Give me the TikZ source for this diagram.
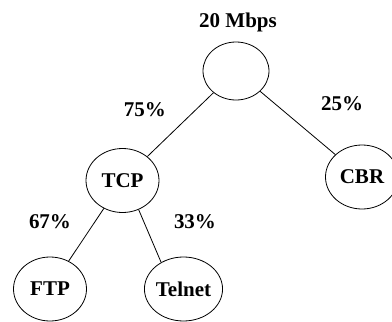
\documentclass[tikz,border=0pt]{standalone}
\usepackage{fontspec}
\setmainfont{Liberation Serif}
\usepackage{tikz}
\usetikzlibrary{shapes.geometric}

\begin{document}
\begin{tikzpicture}[x=1pt,y=-1pt,
        flow/.style={draw, ellipse, line width=0.8pt, inner sep=0pt,
            minimum width=73pt, minimum height=64pt,
            font=\fontsize{21}{25}\selectfont\bfseries},
        share/.style={font=\fontsize{21}{25}\selectfont\bfseries},
        branch/.style={line width=0.8pt}]
                \useasboundingbox (0,0) rectangle (392,322);
                % the link and its traffic classes
                \node[flow, minimum width=66pt, minimum height=58pt] (link) at (236,71) {};
                \node[flow] (tcp) at (122.5,180.5) {TCP};
                \node[flow] (cbr) at (362,177) {CBR};
                \node[flow] (ftp) at (50,289) {FTP};
                \node[flow] (telnet) at (183.5,289) {Telnet};
                \node[share] (rate) at (238,22.5) {20 Mbps};
                \draw[branch] (link) -- (tcp);
                \draw[branch] (link) -- (cbr);
                \draw[branch] (tcp) -- (ftp);
                \draw[branch] (tcp.-61) -- (telnet.130);
                % shares of each branch
                \node[share] (tcpshare) at (145,109.5) {75\%};
                \node[share] (cbrshare) at (342,104) {25\%};
                \node[share] (ftpshare) at (50,222) {67\%};
                \node[share] (telnetshare) at (195,222) {33\%};
            \end{tikzpicture}
\end{document}
